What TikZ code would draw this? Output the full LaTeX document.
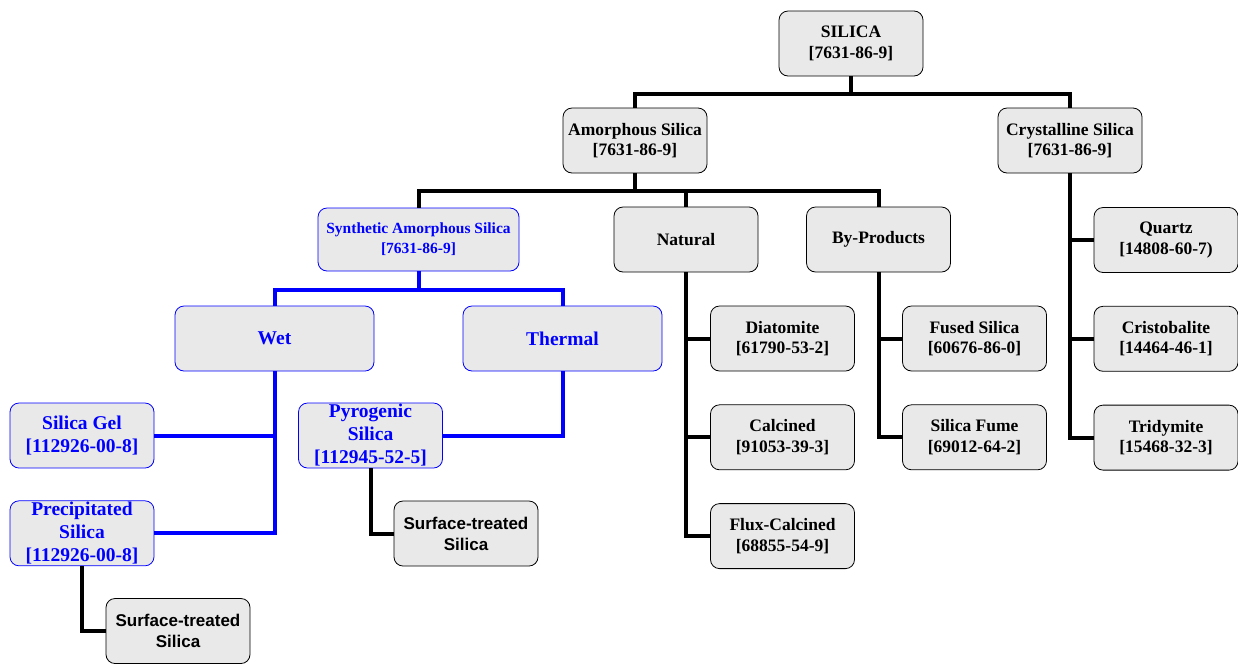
\documentclass[tikz,border=0pt]{standalone}
\usepackage{fontspec}
\setmainfont{Liberation Serif}
\setsansfont{Liberation Sans}
\usepackage{tikz}
\usetikzlibrary{positioning}
\definecolor{boxgray}{RGB}{233,233,233}

\begin{document}
\begin{tikzpicture}[x=1pt, y=1pt, node distance=33pt,
    box/.style={draw, line width=0.8pt, rounded corners=9pt, fill=boxgray,
      minimum width=144pt, minimum height=65pt, inner sep=1pt, align=center,
      font=\bfseries\fontsize{17.5}{20.5}\selectfont},
    bluebox/.style={box, draw=blue, text=blue, font=\bfseries\fontsize{19.5}{23}\selectfont},
    sansbox/.style={box, font=\sffamily\bfseries\fontsize{17}{21}\selectfont},
    link/.style={line width=4pt},
    bluelink/.style={link, draw=blue}]
  \useasboundingbox (0,0) rectangle (1238,-665);

  % Top of the tree
  \node[box] (silica) at (851,-43.5) {SILICA\\{}[7631-86-9]};
  \node[box] (amor) at (635,-140.5) {Amorphous Silica\\{}[7631-86-9]};
  \node[box] (cryst) at (1070,-140.5) {Crystalline Silica\\{}[7631-86-9]};

  % Amorphous branches
  \node[box, draw=blue, text=blue, minimum width=201pt, minimum height=63pt,
    font=\bfseries\fontsize{15.5}{20}\selectfont] (synth) at (418.5,-239.5)
    {Synthetic Amorphous Silica\\{}[7631-86-9]};
  \node[box] (natural) at (686,-239.5) {Natural};
  \node[box] (byprod) at (878.5,-239.5) {By-Products};

  % Synthetic: wet and thermal
  \node[bluebox, minimum width=199pt] (wet) at (274.5,-338.5) {Wet};
  \node[bluebox, minimum width=199pt] (thermal) at (562.5,-338.5) {Thermal};
  \node[bluebox] (gel) at (82,-435.5) {Silica Gel\\{}[112926-00-8]};
  \node[bluebox, inner sep=0pt, below=32pt of gel] (precip) {Precipitated\\Silica\\{}[112926-00-8]};
  \node[bluebox, inner sep=0pt] (pyro) at (370.5,-435.5) {Pyrogenic\\Silica\\{}[112945-52-5]};
  \node[sansbox] (surf1) at (466,-533.5) {Surface-treated\\Silica};
  \node[sansbox] (surf2) at (178,-631) {Surface-treated\\Silica};

  % Natural and by-products
  \node[box] (diatom) at (782.5,-338.5) {Diatomite\\{}[61790-53-2]};
  \node[box, below=of diatom] (calcined) {Calcined\\{}[91053-39-3]};
  \node[box, below=of calcined] (flux) {Flux-Calcined\\{}[68855-54-9]};
  \node[box] (fused) at (974.5,-338.5) {Fused Silica\\{}[60676-86-0]};
  \node[box, below=of fused] (fume) {Silica Fume\\{}[69012-64-2]};

  % Crystalline
  \node[box] (quartz) at (1166,-240) {Quartz\\{}[14808-60-7)};
  \node[box, below=of quartz] (cristo) {Cristobalite\\{}[14464-46-1]};
  \node[box, below=of cristo] (tridy) {Tridymite\\{}[15468-32-3]};

  % Connectors
  \draw[link] (silica.south) -- ++(0,-17.5) coordinate (bus1);
  \draw[link] (bus1) -| (amor.north);
  \draw[link] (bus1) -| (cryst.north);

  \draw[link] (amor.south) -- ++(0,-18) coordinate (bus2);
  \draw[link] (bus2) -| (synth.north);
  \draw[link] (bus2) -| (natural.north);
  \draw[link] (bus2) -| (byprod.north);

  \draw[bluelink] (synth.south) -- ++(0,-19) coordinate (bus3);
  \draw[bluelink] (bus3) -| (wet.north);
  \draw[bluelink] (bus3) -| (thermal.north);

  \draw[bluelink] (wet.south) |- (gel.east);
  \draw[bluelink] (wet.south) |- (precip.east);
  \draw[bluelink] (thermal.south) |- (pyro.east);
  \draw[link] (pyro.south) |- (surf1.west);
  \draw[link] (precip.south) |- (surf2.west);

  \draw[link] (natural.south) |- (diatom.west);
  \draw[link] (natural.south) |- (calcined.west);
  \draw[link] (natural.south) |- (flux.west);
  \draw[link] (byprod.south) |- (fused.west);
  \draw[link] (byprod.south) |- (fume.west);

  \draw[link] (cryst.south) |- (quartz.west);
  \draw[link] (cryst.south) |- (cristo.west);
  \draw[link] (cryst.south) |- (tridy.west);
\end{tikzpicture}
\end{document}
